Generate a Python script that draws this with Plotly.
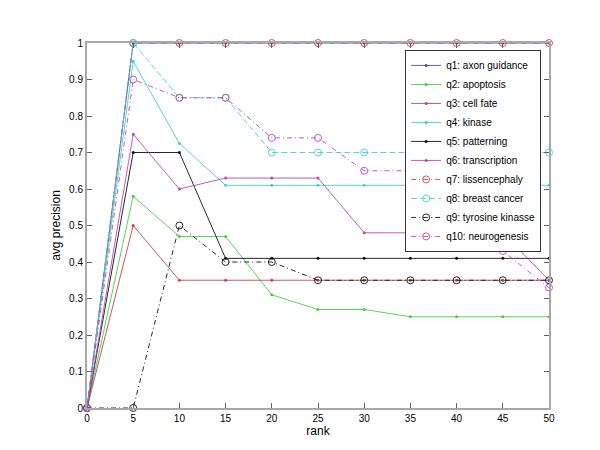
import plotly.graph_objects as go

rank = [0, 5, 10, 15, 20, 25, 30, 35, 40, 45, 50]

q1_axon_guidance = [0, 1, 1, 1, 1, 1, 1, 1, 1, 1, 1]
q2_apoptosis = [0, 0.58, 0.47, 0.47, 0.31, 0.27, 0.27, 0.25, 0.25, 0.25, 0.25]
q3_cell_fate = [0, 0.50, 0.35, 0.35, 0.35, 0.35, 0.35, 0.35, 0.35, 0.35, 0.35]
q4_kinase = [0, 0.95, 0.725, 0.61, 0.61, 0.61, 0.61, 0.61, 0.61, 0.61, 0.61]
q5_patterning = [0, 0.70, 0.70, 0.41, 0.41, 0.41, 0.41, 0.41, 0.41, 0.41, 0.41]
q6_transcription = [0, 0.75, 0.60, 0.63, 0.63, 0.63, 0.48, 0.48, 0.48, 0.48, 0.35]
q7_lissencephaly = [0, 1, 1, 1, 1, 1, 1, 1, 1, 1, 1]
q8_breast_cancer = [0, 1, 0.85, 0.85, 0.70, 0.70, 0.70, 0.70, 0.70, 0.70, 0.70]
q9_tyrosine_kinasse = [0, 0, 0.50, 0.40, 0.40, 0.35, 0.35, 0.35, 0.35, 0.35, 0.35]
q10_neurogenesis = [0, 0.90, 0.85, 0.85, 0.74, 0.74, 0.65, 0.65, 0.53, 0.43, 0.33]

BLUE = "#4a4ac0"
GREEN = "#48cc48"
RED = "#c04848"
CYAN = "#48cccc"
BLACK = "#101010"
MAGENTA = "#b848b8"

DASHDOT = "5px,3px,1px,3px"
DASH = "6px,3px"

# (name, values, colour, dash, marker)
series = [
    ("q1: axon guidance", q1_axon_guidance, BLUE, "solid", "dot"),
    ("q2: apoptosis", q2_apoptosis, GREEN, "solid", "dot"),
    ("q3: cell fate", q3_cell_fate, RED, "solid", "dot"),
    ("q4: kinase", q4_kinase, CYAN, "solid", "dot"),
    ("q5: patterning", q5_patterning, BLACK, "solid", "dot"),
    ("q6: transcription", q6_transcription, MAGENTA, "solid", "dot"),
    ("q7: lissencephaly", q7_lissencephaly, RED, DASHDOT, "circle"),
    ("q8: breast cancer", q8_breast_cancer, CYAN, DASH, "circle"),
    ("q9: tyrosine kinasse", q9_tyrosine_kinasse, BLACK, DASHDOT, "circle"),
    ("q10: neurogenesis", q10_neurogenesis, MAGENTA, DASHDOT, "circle"),
]

fig = go.Figure()
for name, vals, col, dash, mk in series:
    if mk == "dot":
        marker = dict(symbol="circle", size=3, color=col)
    else:
        marker = dict(symbol="circle-open", size=7, color=col, line=dict(width=0.9, color=col))
    fig.add_trace(go.Scatter(
        x=rank, y=vals, name=name, mode="lines+markers",
        line=dict(color=col, width=0.9, dash=dash),
        marker=marker, cliponaxis=False,
    ))

axis_style = dict(
    showline=True, linecolor="#a8a8a8", linewidth=2, mirror="ticks",
    ticks="inside", ticklen=5, tickcolor="#606060", tickwidth=1,
    showgrid=False, zeroline=False, tickfont=dict(size=10, color="#000"),
)

fig.update_layout(
    width=600, height=450,
    paper_bgcolor="white", plot_bgcolor="white",
    font=dict(family="Liberation Sans, Arial, sans-serif", size=10, color="#000"),
    margin=dict(l=79, r=59, t=35, b=50),
    showlegend=True,
    legend=dict(
        x=0.983, y=0.981, xanchor="right", yanchor="top",
        bgcolor="white", bordercolor="#333", borderwidth=1,
        font=dict(size=10), tracegroupgap=0,
    ),
)
fig.update_xaxes(range=[0, 50], tickvals=rank, title=dict(text="rank", standoff=4), **axis_style)
fig.update_yaxes(range=[0, 1], dtick=0.1, title=dict(text="avg precision", standoff=6), **axis_style)

fig.write_html("out.html")
